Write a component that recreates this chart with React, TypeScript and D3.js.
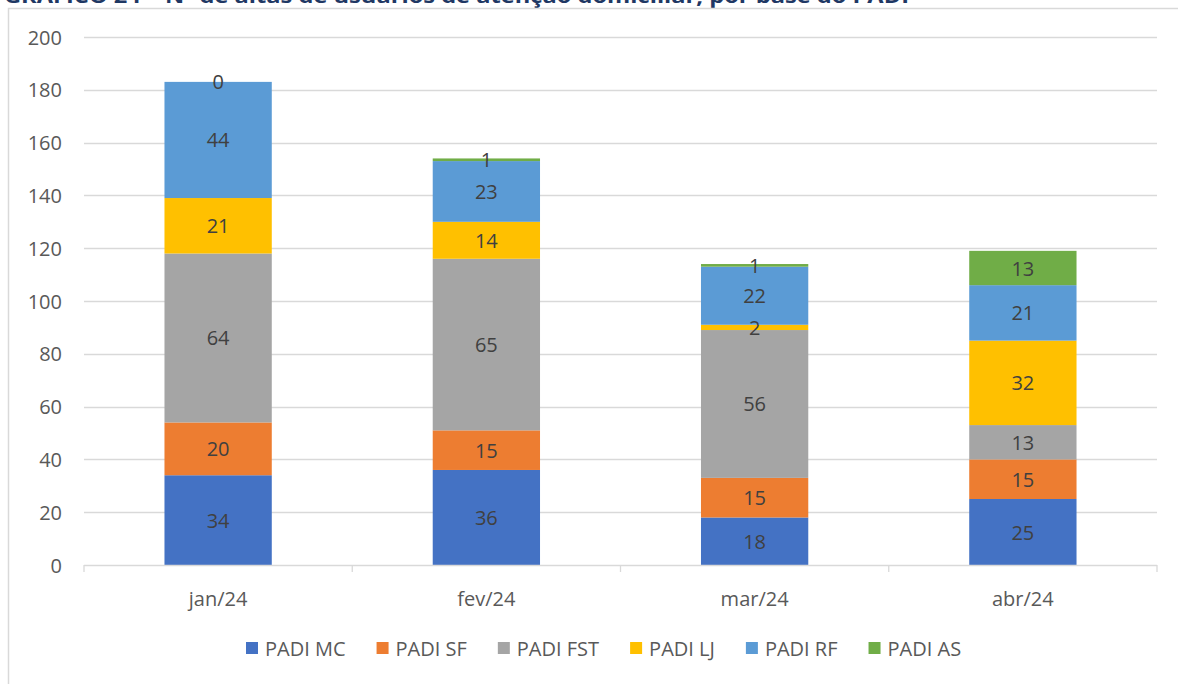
import React, { useEffect, useRef } from 'react';
import * as d3 from 'd3';

const months = ['jan/24', 'fev/24', 'mar/24', 'abr/24'];
const seriesNames = ['PADI MC', 'PADI SF', 'PADI FST', 'PADI LJ', 'PADI RF', 'PADI AS'];
const padiMC = [34, 36, 18, 25];
const padiSF = [20, 15, 15, 15];
const padiFST = [64, 65, 56, 13];
const padiLJ = [21, 14, 2, 32];
const padiRF = [44, 23, 22, 21];
const padiAS = [0, 1, 1, 13];
const yTicks = [0, 20, 40, 60, 80, 100, 120, 140, 160, 180, 200];
const colors = ['#4472C4', '#ED7D31', '#A5A5A5', '#FFC000', '#5B9BD5', '#70AD47'];
const title = 'GRÁFICO 24 – Nº de altas de usuários de atenção domiciliar, por base do PADI';

const W = 1178;
const H = 684;
const FONT = '"Open Sans", sans-serif';
const FS = 20;

export default function App() {
  const svgRef = useRef<SVGSVGElement>(null);

  useEffect(() => {
    const svg = d3.select(svgRef.current);
    svg.selectAll('*').remove();

    const values = [padiMC, padiSF, padiFST, padiLJ, padiRF, padiAS];
    const rows = months.map((m, i) => {
      const r: any = { month: m };
      seriesNames.forEach((s, j) => (r[s] = values[j][i]));
      return r;
    });
    const stacked = d3.stack().keys(seriesNames)(rows);

    const x = d3.scaleBand().domain(months).range([84, 1157]).paddingInner(0.6).paddingOuter(0.3);
    const y = d3.scaleLinear().domain([0, 200]).range([565, 37]);

    // title, cut off at the top like the source
    svg.append('text')
      .attr('x', 4).attr('y', 3)
      .attr('font-family', FONT).attr('font-weight', 'bold').attr('font-size', 19)
      .attr('fill', '#1F3864')
      .attr('textLength', 905).attr('lengthAdjust', 'spacingAndGlyphs')
      .text(title);

    // chart frame (right/bottom cut off)
    svg.append('path')
      .attr('d', `M8.5,${H + 5}V8.5H${W + 5}`)
      .attr('fill', 'none').attr('stroke', '#D9D9D9').attr('stroke-width', 1.5);

    // gridlines
    svg.append('g').selectAll('line').data(yTicks.filter((t) => t > 0)).join('line')
      .attr('x1', 84).attr('x2', 1157)
      .attr('y1', (d) => Math.round(y(d)) + 0.5).attr('y2', (d) => Math.round(y(d)) + 0.5)
      .attr('stroke', '#D9D9D9').attr('stroke-width', 1.3);

    // y tick labels
    svg.append('g').selectAll('text').data(yTicks).join('text')
      .attr('x', 62).attr('y', (d) => y(d))
      .attr('text-anchor', 'end').attr('dominant-baseline', 'central')
      .attr('font-family', FONT).attr('font-size', FS).attr('fill', '#595959')
      .text((d) => d);

    // bars
    const layers = svg.append('g').selectAll('g').data(stacked).join('g')
      .attr('fill', (d, i) => colors[i]);
    layers.selectAll('rect').data((d) => d).join('rect')
      .attr('x', (d: any) => x(d.data.month)!)
      .attr('width', x.bandwidth())
      .attr('y', (d) => y(d[1]))
      .attr('height', (d) => y(d[0]) - y(d[1]));

    // x axis line and ticks
    svg.append('line')
      .attr('x1', 84).attr('x2', 1157).attr('y1', 565.5).attr('y2', 565.5)
      .attr('stroke', '#D9D9D9').attr('stroke-width', 1.3);
    const step = x.step();
    svg.append('g').selectAll('line').data(d3.range(months.length + 1)).join('line')
      .attr('x1', (i) => 84 + i * step).attr('x2', (i) => 84 + i * step)
      .attr('y1', 565).attr('y2', 572)
      .attr('stroke', '#D9D9D9').attr('stroke-width', 1.3);

    // x labels
    svg.append('g').selectAll('text').data(months).join('text')
      .attr('x', (d) => x(d)! + x.bandwidth() / 2).attr('y', 598)
      .attr('text-anchor', 'middle').attr('dominant-baseline', 'central')
      .attr('font-family', FONT).attr('font-size', FS).attr('fill', '#595959')
      .text((d) => d);

    // data labels
    stacked.forEach((layer) => {
      svg.append('g').selectAll('text').data(layer).join('text')
        .attr('x', (d: any) => x(d.data.month)! + x.bandwidth() / 2)
        .attr('y', (d) => y((d[0] + d[1]) / 2))
        .attr('text-anchor', 'middle').attr('dominant-baseline', 'central')
        .attr('font-family', FONT).attr('font-size', FS).attr('fill', '#404040')
        .text((d) => d[1] - d[0]);
    });

    // legend
    const legend = svg.append('g');
    let lx = 246;
    seriesNames.forEach((s, i) => {
      legend.append('rect')
        .attr('x', lx).attr('y', 642).attr('width', 12).attr('height', 12)
        .attr('fill', colors[i]);
      const t = legend.append('text')
        .attr('x', lx + 19).attr('y', 648)
        .attr('dominant-baseline', 'central')
        .attr('font-family', FONT).attr('font-size', FS).attr('fill', '#595959')
        .text(s);
      const len = (t.node() as SVGTextElement).getComputedTextLength();
      lx += 19 + len + 31;
    });
  }, []);

  return (
    <svg
      ref={svgRef}
      width={W}
      height={H}
      style={{ position: 'absolute', left: 0, top: 0, background: '#fff' }}
    />
  );
}
